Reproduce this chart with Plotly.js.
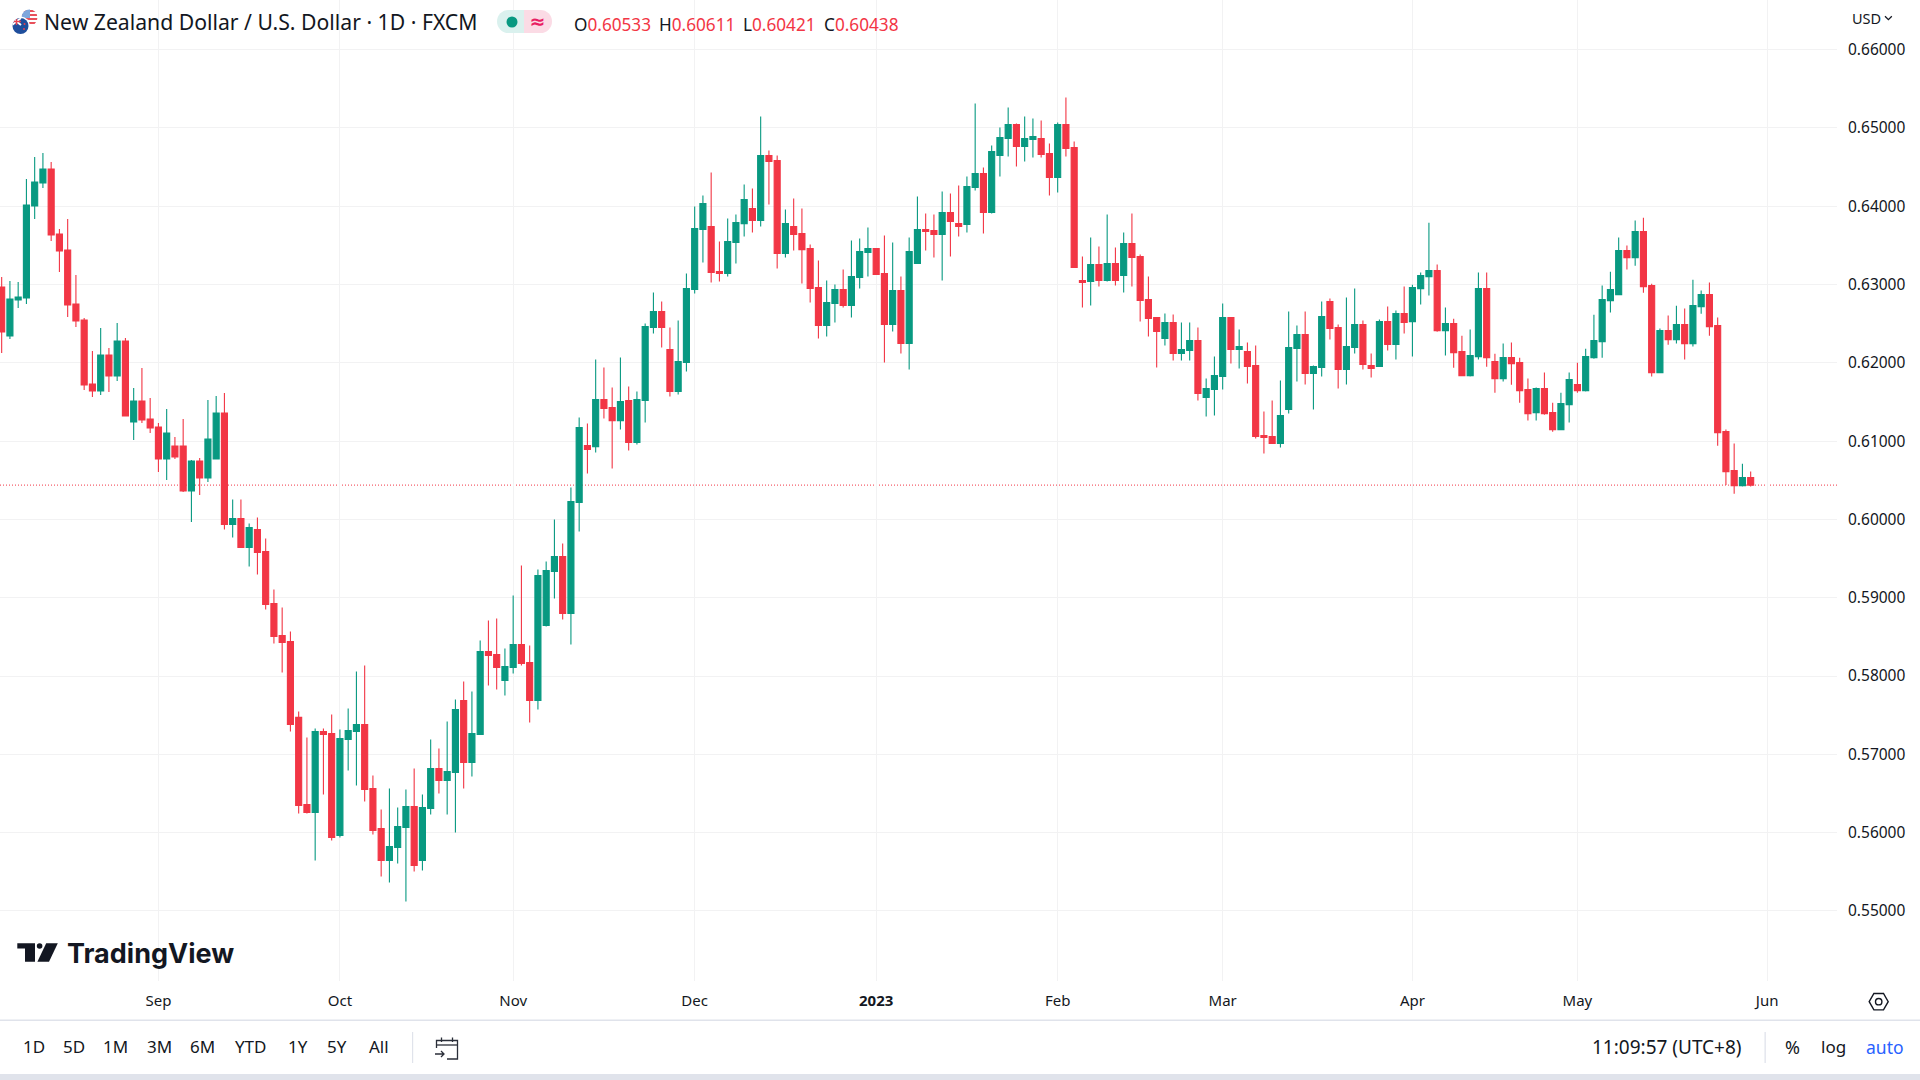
<!DOCTYPE html>
<html>
<head>
<meta charset="utf-8">
<title>NZD/USD</title>
<script src="https://cdn.plot.ly/plotly-3.0.1.min.js"></script>
<style>
html,body{margin:0;padding:0;background:#fff;width:1920px;height:1080px;overflow:hidden}
#chart{position:absolute;left:0;top:0;width:1920px;height:1080px}
#icons{position:absolute;left:0;top:0;pointer-events:none}
</style>
</head>
<body>
<div id="chart"></div>
<svg id="icons" width="1920" height="1080" viewBox="0 0 1920 1080" xmlns="http://www.w3.org/2000/svg">
  <!-- currency flags -->
  <defs>
    <clipPath id="us"><circle cx="29.5" cy="17.5" r="8"/></clipPath>
    <clipPath id="nz"><circle cx="20.5" cy="26" r="8"/></clipPath>
  </defs>
  <g clip-path="url(#us)">
    <rect x="21" y="9" width="17" height="17" fill="#fff"/>
    <rect x="21" y="10" width="17" height="2" fill="#e8505b"/>
    <rect x="21" y="14" width="17" height="2" fill="#e8505b"/>
    <rect x="21" y="18" width="17" height="2" fill="#e8505b"/>
    <rect x="21" y="22" width="17" height="2" fill="#e8505b"/>
    <rect x="21" y="9" width="9" height="9" fill="#7ea6dc"/>
  </g>
  <circle cx="20.5" cy="26" r="9.5" fill="#fff"/>
  <g clip-path="url(#nz)">
    <rect x="12" y="18" width="17" height="17" fill="#1f4e9c"/>
    <path d="M12 18L21 25M21 18L12 25" stroke="#fff" stroke-width="2"/>
    <path d="M12 21.5H21M16.5 18V25" stroke="#e5404f" stroke-width="1.4"/>
    <circle cx="24.5" cy="24" r="1" fill="#e5404f"/>
    <circle cx="24" cy="29" r="1" fill="#e5404f"/>
  </g>
  <!-- status pill -->
  <path d="M524 10H508.5a11.5 11.5 0 0 0 0 23H524z" fill="#daf1ee"/>
  <path d="M524 10H540.5a11.5 11.5 0 0 1 0 23H524z" fill="#fbdbe5"/>
  <circle cx="512" cy="22" r="5.5" fill="#089981"/>
  <text x="537.5" y="28" text-anchor="middle" font-family="DejaVu Sans, sans-serif" font-size="19" font-weight="700" fill="#e91e63">≈</text>
  <!-- USD chevron -->
  <path d="M1885 16.2L1888.4 19.6L1891.8 16.2" fill="none" stroke="#131722" stroke-width="1.3"/>
  <!-- TradingView mark -->
  <path d="M17.3 943.3H35V961.7H25V948.6H17.3z" fill="#131722"/>
  <circle cx="39.6" cy="946" r="2.8" fill="#131722"/>
  <path d="M46.2 943.3H57.8L49 961.7H37.4z" fill="#131722"/>
  <!-- go-to-date icon -->
  <g fill="none" stroke="#2a2e39" stroke-width="1.3">
    <path d="M436.5 1048V1040.5H457.5V1059H447"/>
    <path d="M436.5 1045H457.5"/>
    <path d="M441.5 1037.5V1042M452.5 1037.5V1042"/>
    <path d="M435 1054H444M441 1051L444 1054L441 1057"/>
  </g>
  <!-- settings icon -->
  <g fill="none" stroke="#131722" stroke-width="1.4">
    <path d="M1869.2 1001.7L1873.9 993.5H1883.5L1888.2 1001.7L1883.5 1009.9H1873.9z"/>
    <circle cx="1878.7" cy="1001.7" r="3.2"/>
  </g>
</svg>
<script>
const open = [
0.62968,0.62342,0.62802,0.62827,0.64002,0.64296,0.64475,0.63645,0.63440,0.62751,
0.62547,0.61729,0.61640,0.62100,0.61831,0.62278,0.61244,0.61512,0.61282,0.61180,
0.60771,0.60937,0.60937,0.60363,0.60746,0.60529,0.60771,0.61359,0.59935,0.60012,
0.59642,0.59871,0.59590,0.58926,0.58518,0.58441,0.57471,0.56359,0.56257,0.57292,
0.57266,0.55964,0.57190,0.57292,0.57381,0.56564,0.56053,0.55644,0.55810,0.56066,
0.56334,0.55644,0.56308,0.56819,0.56666,0.56768,0.57688,0.56896,0.57253,0.58313,
0.58275,0.57943,0.58109,0.58403,0.58173,0.57688,0.58645,0.59335,0.59527,0.58799,
0.60216,0.60943,0.60930,0.61531,0.61429,0.61262,0.61518,0.60982,0.61518,0.62450,
0.62655,0.62169,0.61633,0.62003,0.62936,0.63702,0.63740,0.63165,0.63140,0.63536,
0.63778,0.63970,0.63817,0.64647,0.64583,0.63395,0.63740,0.63651,0.63459,0.62961,
0.62476,0.62757,0.62936,0.62731,0.63089,0.63408,0.63459,0.63140,0.62489,0.62923,
0.62246,0.63268,0.63702,0.63689,0.63638,0.63919,0.63778,0.63766,0.64238,0.64417,
0.63919,0.64647,0.64864,0.65043,0.64762,0.64851,0.64864,0.64673,0.64366,0.65043,
0.64749,0.63051,0.63038,0.63255,0.63051,0.63268,0.63115,0.63523,0.63357,0.62808,
0.62578,0.62310,0.62514,0.62118,0.62157,0.62284,0.61557,0.61659,0.61825,0.62578,
0.62170,0.62144,0.61965,0.61071,0.61058,0.60969,0.61403,0.62182,0.62361,0.61863,
0.61940,0.62783,0.62451,0.61914,0.62195,0.62489,0.61965,0.61952,0.62527,0.62233,
0.62629,0.62526,0.62947,0.63101,0.63177,0.62411,0.62500,0.62143,0.61836,0.62079,
0.62947,0.62015,0.61798,0.62066,0.62002,0.61658,0.61364,0.61670,0.61364,0.61147,
0.61466,0.61721,0.61645,0.62066,0.62271,0.62794,0.62871,0.63433,0.63343,0.63675,
0.62986,0.61875,0.62411,0.62296,0.62488,0.62245,0.62717,0.62871,0.62475,0.61121,
0.60623,0.60431,0.60533];
const high = [
0.63096,0.63045,0.63032,0.64347,0.64628,0.64679,0.64564,0.63709,0.63836,0.63121,
0.62572,0.62151,0.62444,0.62189,0.62508,0.62317,0.61678,0.61934,0.61550,0.61231,
0.61410,0.61052,0.61282,0.60759,0.60784,0.61525,0.61576,0.61614,0.60255,0.60255,
0.59948,0.60025,0.59757,0.59105,0.58875,0.58569,0.57547,0.57215,0.57330,0.57330,
0.57509,0.57317,0.57585,0.58058,0.58135,0.56730,0.56296,0.56564,0.56321,0.56551,
0.56819,0.56487,0.57190,0.57075,0.57419,0.57700,0.57930,0.57803,0.58454,0.58709,
0.58735,0.58352,0.59029,0.59412,0.58390,0.59361,0.59463,0.59999,0.59693,0.60408,
0.61301,0.61224,0.62042,0.61939,0.61684,0.62067,0.61697,0.61633,0.62501,0.62897,
0.62782,0.62450,0.62540,0.63140,0.63996,0.64136,0.64430,0.63549,0.63842,0.63893,
0.64276,0.64225,0.65145,0.64711,0.64647,0.63957,0.64098,0.63970,0.63510,0.63306,
0.63050,0.62999,0.63191,0.63561,0.63587,0.63727,0.63459,0.63625,0.63536,0.63102,
0.63600,0.64123,0.63906,0.63893,0.64187,0.64162,0.64264,0.64379,0.65311,0.64494,
0.64775,0.65005,0.65260,0.65056,0.65145,0.65120,0.65094,0.64800,0.65069,0.65388,
0.64826,0.63357,0.63600,0.63485,0.63894,0.63472,0.63664,0.63906,0.63383,0.63102,
0.62578,0.62629,0.62617,0.62514,0.62514,0.62451,0.61799,0.62080,0.62757,0.62578,
0.62425,0.62259,0.62221,0.61378,0.61518,0.61774,0.62655,0.62476,0.62655,0.61965,
0.62783,0.62821,0.62489,0.62834,0.62949,0.62540,0.62118,0.62553,0.62719,0.62668,
0.62974,0.62998,0.63152,0.63790,0.63254,0.62705,0.62564,0.62347,0.62424,0.63152,
0.63152,0.62117,0.62245,0.62258,0.62066,0.61798,0.61683,0.61875,0.61491,0.61619,
0.61875,0.62002,0.62181,0.62615,0.62986,0.63164,0.63599,0.63497,0.63816,0.63854,
0.63011,0.62437,0.62603,0.62730,0.62692,0.63062,0.62922,0.63024,0.62577,0.61147,
0.60968,0.60712,0.60611];
const low = [
0.62125,0.62304,0.62700,0.62751,0.63836,0.64232,0.63555,0.63160,0.62585,0.62457,
0.61653,0.61563,0.61589,0.61627,0.61767,0.61320,0.61014,0.61231,0.61103,0.60605,
0.60503,0.60771,0.60350,0.59967,0.60312,0.60478,0.60771,0.59871,0.59769,0.59642,
0.59399,0.59297,0.58850,0.58416,0.58045,0.57292,0.56244,0.56244,0.55644,0.56487,
0.55900,0.55938,0.56794,0.56602,0.56398,0.55976,0.55440,0.55363,0.55606,0.55121,
0.55504,0.55517,0.56232,0.56500,0.56232,0.56002,0.56564,0.56717,0.57253,0.57879,
0.57828,0.57751,0.58032,0.58135,0.57407,0.57573,0.58633,0.58990,0.58722,0.58403,
0.59846,0.60586,0.60854,0.61288,0.60649,0.61148,0.60879,0.60956,0.61237,0.62374,
0.62195,0.61569,0.61595,0.61888,0.62884,0.63280,0.63025,0.63038,0.63102,0.63268,
0.63612,0.63663,0.63740,0.64021,0.63204,0.63344,0.63434,0.63012,0.62769,0.62310,
0.62335,0.62514,0.62706,0.62578,0.62948,0.63102,0.63127,0.62003,0.62399,0.62118,
0.61914,0.63268,0.63434,0.63344,0.63050,0.63357,0.63612,0.63663,0.64200,0.63651,
0.63906,0.64379,0.64634,0.64507,0.64570,0.64622,0.64622,0.64136,0.64175,0.64634,
0.63217,0.62706,0.62731,0.62974,0.63038,0.62987,0.62897,0.62974,0.62527,0.62336,
0.61940,0.62221,0.62029,0.62029,0.62029,0.61518,0.61314,0.61327,0.61659,0.61991,
0.61927,0.61735,0.61033,0.60841,0.60969,0.60918,0.61352,0.61761,0.61723,0.61403,
0.61825,0.62297,0.61671,0.61723,0.62118,0.61914,0.61812,0.61952,0.62157,0.62042,
0.62374,0.62079,0.62743,0.62858,0.62398,0.62092,0.61938,0.61836,0.61824,0.62041,
0.61951,0.61619,0.61760,0.61721,0.61491,0.61262,0.61262,0.61338,0.61121,0.61147,
0.61236,0.61619,0.61632,0.62053,0.62066,0.62641,0.62871,0.63190,0.63241,0.62896,
0.61824,0.61875,0.62232,0.62245,0.62041,0.62207,0.62628,0.62347,0.60942,0.60440,
0.60329,0.60419,0.60421];
const close = [
0.62393,0.62815,0.62840,0.64015,0.64309,0.64475,0.63632,0.63428,0.62738,0.62534,
0.61716,0.61640,0.62100,0.61831,0.62278,0.61320,0.61512,0.61269,0.61167,0.60771,
0.61103,0.60797,0.60363,0.60746,0.60529,0.61027,0.61359,0.59935,0.60012,0.59642,
0.59897,0.59578,0.58914,0.58505,0.58428,0.57381,0.56347,0.56257,0.57292,0.57253,
0.55938,0.57202,0.57304,0.57381,0.56551,0.56027,0.55644,0.55823,0.56078,0.56334,
0.55580,0.56321,0.56819,0.56666,0.56781,0.57573,0.56896,0.57266,0.58313,0.58262,
0.58109,0.58122,0.58403,0.58160,0.57688,0.59284,0.59348,0.59527,0.58799,0.60229,
0.61173,0.60892,0.61531,0.61416,0.61262,0.61505,0.60982,0.61531,0.62463,0.62655,
0.62450,0.61633,0.62016,0.62948,0.63715,0.64034,0.63153,0.63140,0.63549,0.63791,
0.64085,0.63817,0.64647,0.64570,0.63395,0.63778,0.63638,0.63446,0.62948,0.62476,
0.62769,0.62936,0.62731,0.63102,0.63421,0.63459,0.63127,0.62489,0.62923,0.62246,
0.63421,0.63702,0.63676,0.63638,0.63919,0.63804,0.63740,0.64251,0.64417,0.63919,
0.64698,0.64877,0.65043,0.64762,0.64864,0.64890,0.64660,0.64366,0.65043,0.64737,
0.63217,0.63025,0.63255,0.63051,0.63268,0.63051,0.63523,0.63344,0.62795,0.62565,
0.62399,0.62514,0.62118,0.62170,0.62284,0.61608,0.61671,0.61837,0.62578,0.62170,
0.62208,0.61952,0.61058,0.61046,0.60969,0.61327,0.62195,0.62361,0.61863,0.61952,
0.62591,0.62438,0.61914,0.62208,0.62489,0.61978,0.61927,0.62527,0.62233,0.62629,
0.62514,0.62960,0.63113,0.63177,0.62411,0.62500,0.62130,0.61836,0.62092,0.62947,
0.62066,0.61798,0.62066,0.61990,0.61645,0.61351,0.61670,0.61351,0.61147,0.61479,
0.61785,0.61645,0.62079,0.62283,0.62807,0.62935,0.63433,0.63343,0.63675,0.62973,
0.61875,0.62411,0.62296,0.62488,0.62245,0.62730,0.62871,0.62462,0.61108,0.60610,
0.60431,0.60534,0.60438];

const monthLabels = ['Sep','Oct','Nov','Dec','<b>2023</b>','Feb','Mar','Apr','May','Jun'];
const monthBars   = [19,41,62,84,106,128,148,171,191,214];
const priceTicks  = [0.55,0.56,0.57,0.58,0.59,0.60,0.61,0.62,0.63,0.64,0.65,0.66];
const barIndex = open.map((_, i) => i);
const lastPrice = close[close.length - 1];

const W = 1920, H = 1080, plotW = 1837, plotH = 981;
const FONT = '"Noto Sans", sans-serif';
const INK = '#131722';
const UP = '#089981', DOWN = '#f23645', GRID = '#f2f2f3', EDGE = '#e0e3eb';

function note(text, x, y, size, color, anchor, family) {
  return {text, x: x / plotW, y: 1 - y / plotH, xref: 'paper', yref: 'paper',
    xanchor: anchor || 'left', yanchor: 'middle', showarrow: false,
    font: {family: family || FONT, size, color}, borderpad: 0, captureevents: false};
}
function rect(x0, y0, x1, y1, color) {
  return {type: 'rect', xref: 'paper', yref: 'paper', x0: x0 / plotW, x1: x1 / plotW,
    y0: 1 - y0 / plotH, y1: 1 - y1 / plotH, fillcolor: color, line: {width: 0}, layer: 'above'};
}
const red = s => '<span style="color:' + DOWN + '">' + s + '</span>';

const annotations = [
  note('New Zealand Dollar / U.S. Dollar · 1D · FXCM', 43, 22, 21.2, INK),
  note('O' + red('0.60533'), 573, 24, 17.2, INK),
  note('H' + red('0.60611'), 657.5, 24, 17.2, INK),
  note('L' + red('0.60421'), 742, 24, 17.2, INK),
  note('C' + red('0.60438'), 823, 24, 17.2, INK),
  note('USD', 1851, 18, 14.5, INK),
  note('<b>TradingView</b>', 66, 953, 27, INK, 'left', 'Inter, sans-serif'),
  note('1D', 33.5, 1046.5, 17, INK, 'center'),
  note('5D', 74, 1046.5, 17, INK, 'center'),
  note('1M', 116, 1046.5, 17, INK, 'center'),
  note('3M', 159, 1046.5, 17, INK, 'center'),
  note('6M', 202, 1046.5, 17, INK, 'center'),
  note('YTD', 250, 1046.5, 17, INK, 'center'),
  note('1Y', 297.5, 1046.5, 17, INK, 'center'),
  note('5Y', 337, 1046.5, 17, INK, 'center'),
  note('All', 379, 1046.5, 17, INK, 'center'),
  note('11:09:57 (UTC+8)', 1667, 1046.5, 19, INK, 'center'),
  note('%', 1792, 1046.5, 18, INK, 'center'),
  note('log', 1833.5, 1046.5, 17, INK, 'center'),
  note('auto', 1885, 1046.5, 17.5, '#2962ff', 'center')
];

const shapes = [
  {type: 'line', xref: 'paper', yref: 'y', x0: 0, x1: 1, y0: lastPrice, y1: lastPrice,
   line: {color: DOWN, width: 1, dash: '1px,2px'}, layer: 'below'},
  rect(0, 1019.5, W, 1021, EDGE),
  rect(0, 1074, W, H, EDGE),
  rect(412, 1032, 413.2, 1063, EDGE),
  rect(1764.5, 1032, 1765.8, 1063, EDGE)
];

const trace = {
  type: 'candlestick', x: barIndex, open, high, low, close,
  increasing: {line: {color: UP, width: 1.1}, fillcolor: UP},
  decreasing: {line: {color: DOWN, width: 1.1}, fillcolor: DOWN},
  whiskerwidth: 0, hoverinfo: 'none', showlegend: false
};

const pxPerBar = 8.25, firstBarPx = 1.67, pxPerPrice = 7830, refPrice = 0.64, refPx = 206.2;
const layout = {
  width: W, height: H, paper_bgcolor: '#fff', plot_bgcolor: '#fff', showlegend: false,
  margin: {l: 0, r: W - plotW, t: 0, b: H - plotH, pad: 0, autoexpand: false},
  boxgap: 0.15, boxgroupgap: 0.14, dragmode: false, hovermode: false,
  xaxis: {
    type: 'linear', range: [(0 - firstBarPx) / pxPerBar, (plotW - firstBarPx) / pxPerBar],
    rangeslider: {visible: false}, tickmode: 'array', tickvals: monthBars, ticktext: monthLabels,
    showgrid: true, gridcolor: GRID, gridwidth: 1, zeroline: false, showline: false, ticks: '',
    ticklabelstandoff: 9, tickfont: {family: FONT, size: 15, color: INK}, fixedrange: true
  },
  yaxis: {
    type: 'linear', side: 'right',
    range: [refPrice - (plotH - refPx) / pxPerPrice, refPrice + refPx / pxPerPrice],
    tickmode: 'array', tickvals: priceTicks, tickformat: '.5f',
    showgrid: true, gridcolor: GRID, gridwidth: 1, zeroline: false, showline: false, ticks: '',
    ticklabelstandoff: 10, tickfont: {family: FONT, size: 15.5, color: INK}, fixedrange: true
  },
  annotations, shapes
};

Plotly.newPlot('chart', [trace], layout, {displayModeBar: false, responsive: false, staticPlot: true});
</script>
</body>
</html>
